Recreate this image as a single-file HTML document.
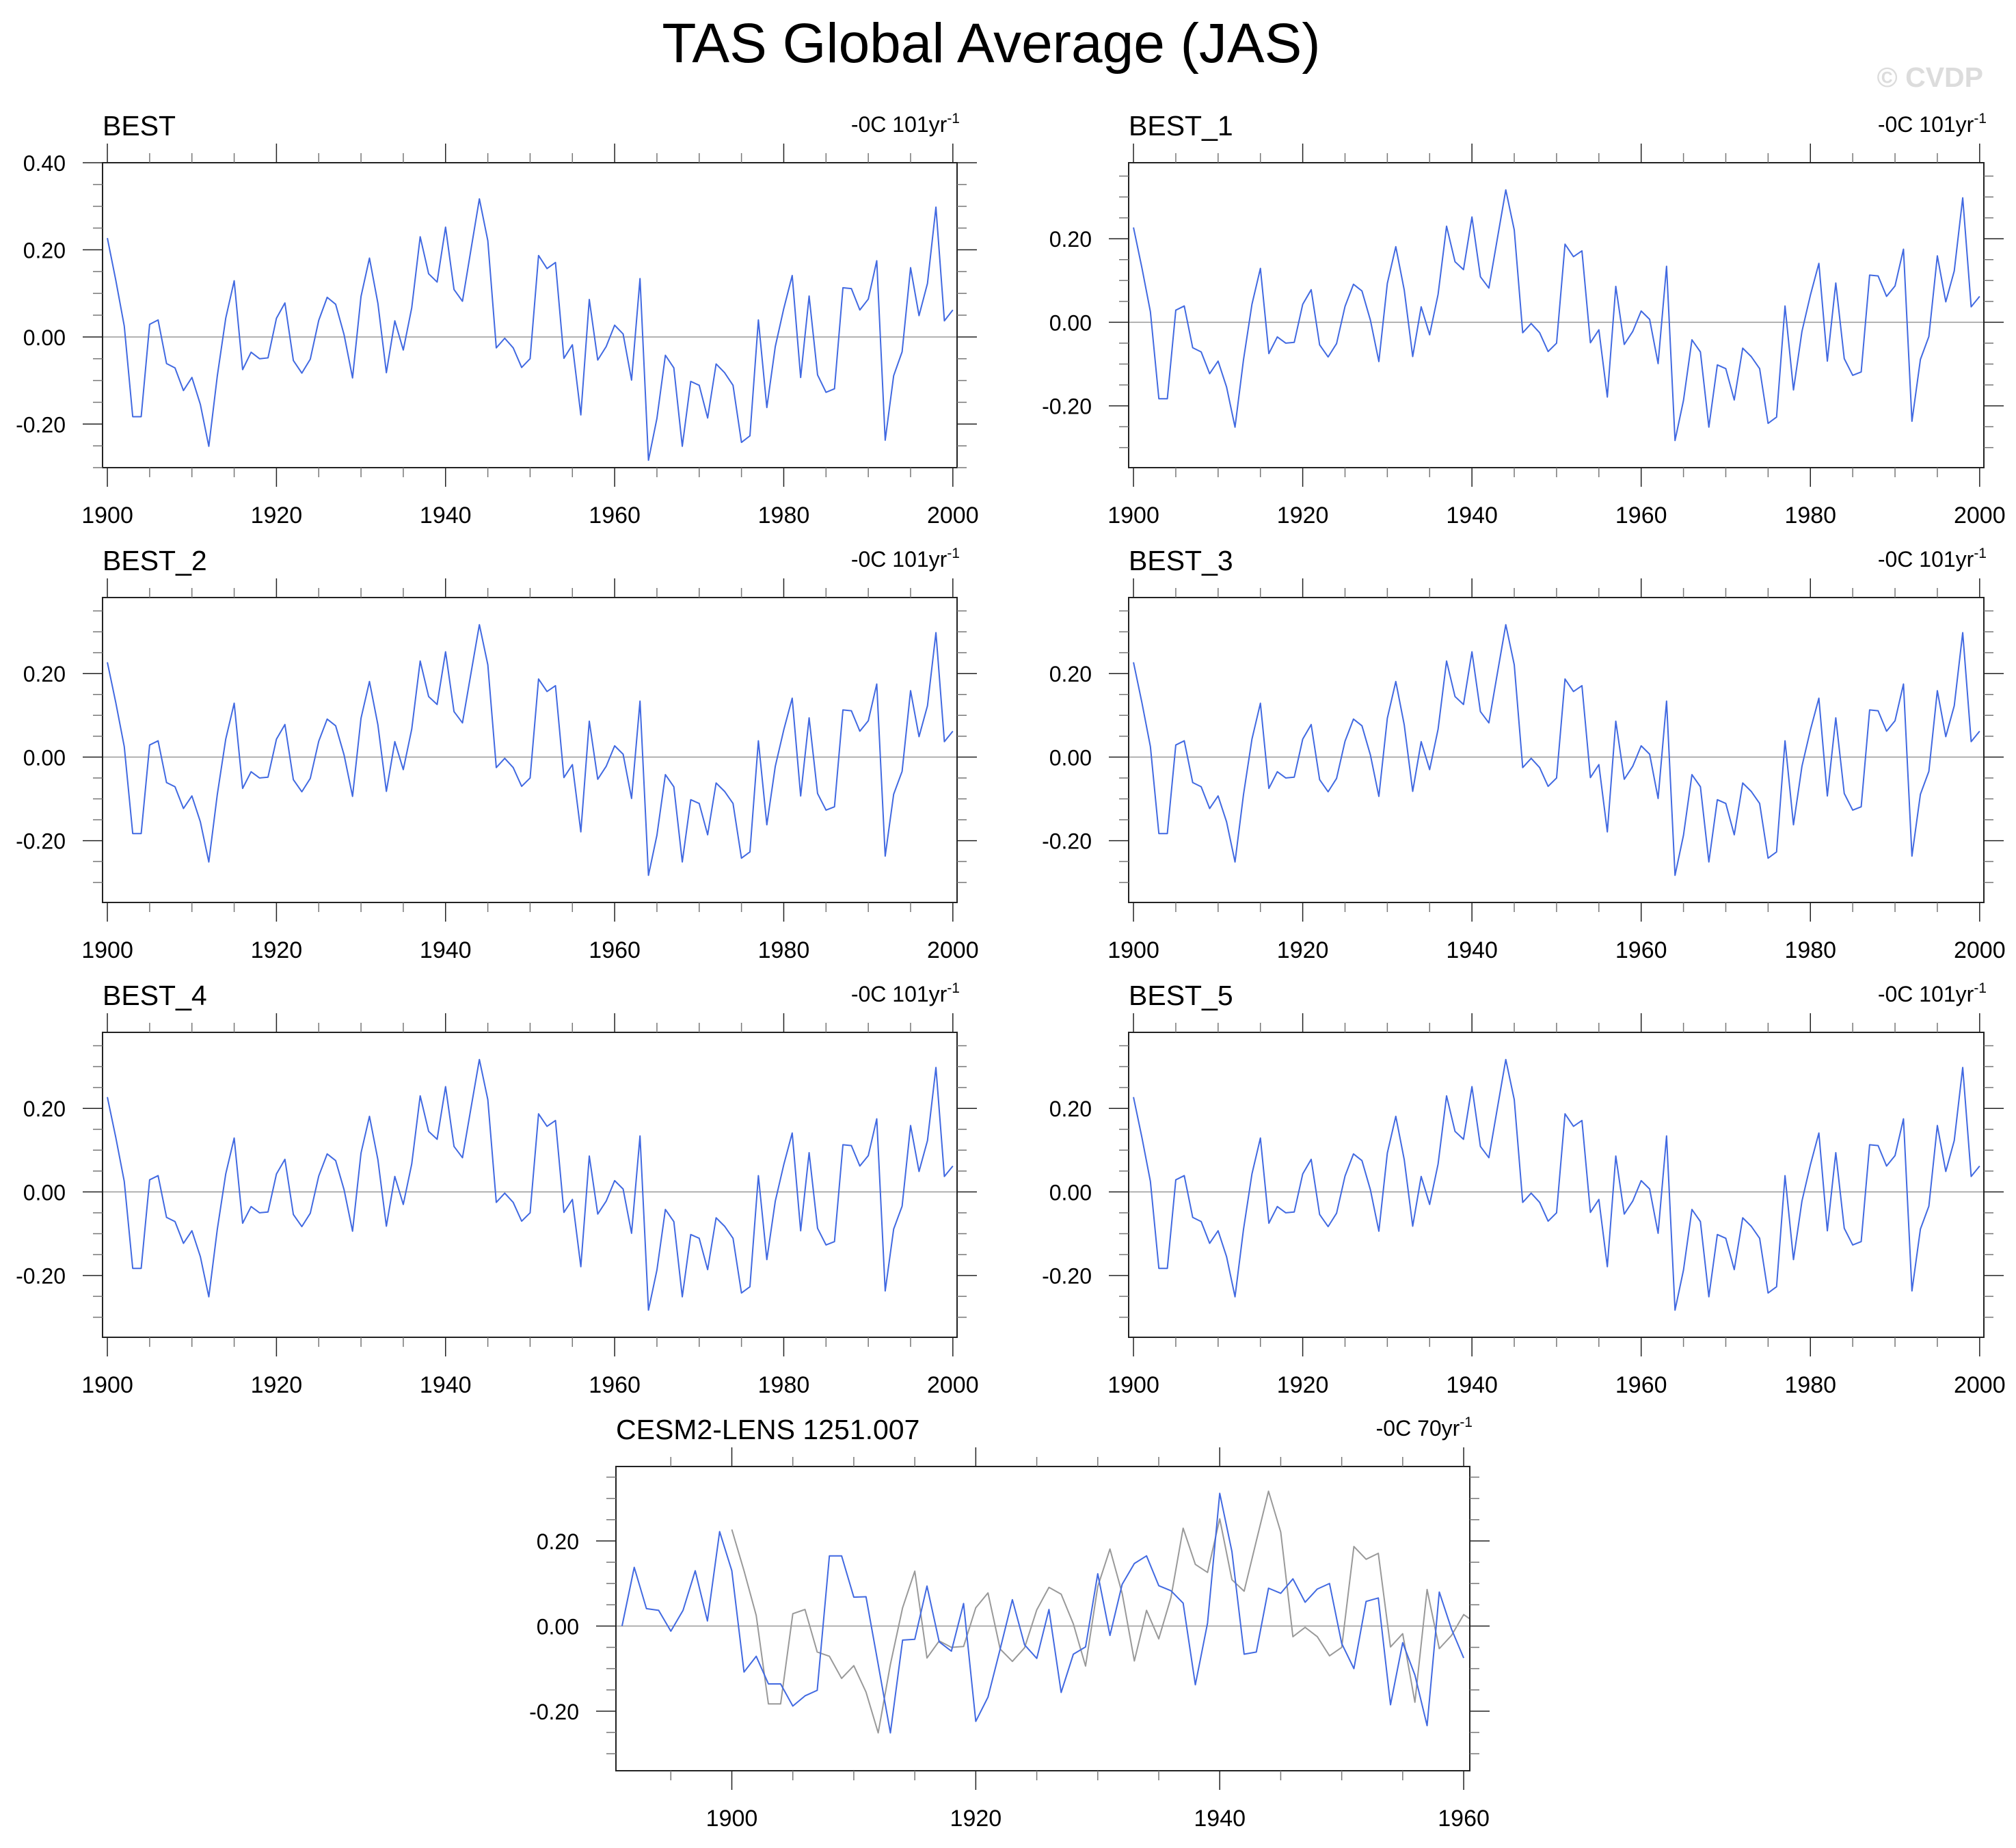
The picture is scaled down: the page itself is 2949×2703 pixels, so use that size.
<!DOCTYPE html>
<html><head><meta charset="utf-8">
<style>
html,body{margin:0;padding:0;background:#fff;}
svg{display:block;font-family:"Liberation Sans",Arial,sans-serif;}
</style></head>
<body>
<svg id="fig" width="2949" height="2703" viewBox="0 0 2949 2703" xmlns="http://www.w3.org/2000/svg">
<text x="1450" y="91" font-size="82" text-anchor="middle" fill="#000">TAS Global Average (JAS)</text>
<text x="2901" y="127" font-size="41" font-weight="bold" text-anchor="end" fill="#dcdcdc">© CVDP</text>
</svg>
<script>
// Observed BEST series, 1900-2000
const bestYears = [];
for (let y = 1900; y <= 2000; y++) bestYears.push(y);
const bestValues = [0.227,0.13,0.025,-0.183,-0.183,0.029,0.039,-0.061,-0.071,-0.123,
-0.093,-0.155,-0.251,-0.09,0.043,0.129,-0.075,-0.035,-0.05,-0.048,
0.043,0.078,-0.054,-0.083,-0.051,0.038,0.091,0.075,0.005,-0.094,
0.093,0.181,0.077,-0.082,0.037,-0.03,0.067,0.23,0.145,0.126,
0.252,0.109,0.082,0.2,0.317,0.221,-0.025,-0.003,-0.025,-0.07,
-0.05,0.187,0.157,0.171,-0.049,-0.018,-0.179,0.086,-0.053,-0.022,
0.027,0.007,-0.099,0.134,-0.283,-0.187,-0.042,-0.071,-0.251,-0.102,
-0.111,-0.186,-0.062,-0.082,-0.111,-0.242,-0.227,0.039,-0.162,-0.022,
0.065,0.141,-0.093,0.094,-0.087,-0.127,-0.119,0.113,0.111,0.062,
0.087,0.175,-0.237,-0.089,-0.034,0.159,0.049,0.123,0.298,0.037,0.062];
// CESM2-LENS member, 1891-1960
const cesmYears = [];
for (let y = 1891; y <= 1960; y++) cesmYears.push(y);
const cesmValues = [0.0,0.138,0.041,0.037,-0.012,0.037,0.13,0.012,0.222,0.13,
-0.108,-0.071,-0.136,-0.136,-0.188,-0.164,-0.151,0.165,0.165,0.068,
0.069,-0.09,-0.251,-0.033,-0.031,0.094,-0.037,-0.059,0.053,-0.224,
-0.167,-0.054,0.062,-0.044,-0.076,0.039,-0.156,-0.066,-0.049,0.123,
-0.022,0.098,0.147,0.165,0.095,0.083,0.054,-0.138,0.007,0.312,
0.175,-0.066,-0.061,0.089,0.077,0.111,0.056,0.087,0.1,-0.041,
-0.1,0.058,0.066,-0.185,-0.039,-0.115,-0.234,0.08,-0.007,-0.075];
const yTickLabels = ["-0.20","0.00","0.20","0.40"];
const yTickValues = [-0.2,0.0,0.2,0.4];

const NS = "http://www.w3.org/2000/svg";
const svg = document.getElementById('fig');
function mk(tag, attrs, parent){
  const e = document.createElementNS(NS, tag);
  for (const k in attrs) e.setAttribute(k, attrs[k]);
  (parent||svg).appendChild(e);
  return e;
}

const panels = [
 {name:'best', title:'BEST', L:150, R:1400, T:238, B:684, ymin:-0.30, ymax:0.40, xmin:1899.43, xmax:2000.5, xmaj:20, lines:[{x:bestYears,y:bestValues,c:'#4169e1'}], unit:'-0C 101yr'},
 {name:'best-1', title:'BEST_1', L:1651, R:2902, T:238, B:684, ymin:-0.348, ymax:0.382, xmin:1899.43, xmax:2000.5, xmaj:20, lines:[{x:bestYears,y:bestValues,c:'#4169e1'}], unit:'-0C 101yr'},
 {name:'best-2', title:'BEST_2', L:150, R:1400, T:874, B:1320, ymin:-0.348, ymax:0.382, xmin:1899.43, xmax:2000.5, xmaj:20, lines:[{x:bestYears,y:bestValues,c:'#4169e1'}], unit:'-0C 101yr'},
 {name:'best-3', title:'BEST_3', L:1651, R:2902, T:874, B:1320, ymin:-0.348, ymax:0.382, xmin:1899.43, xmax:2000.5, xmaj:20, lines:[{x:bestYears,y:bestValues,c:'#4169e1'}], unit:'-0C 101yr'},
 {name:'best-4', title:'BEST_4', L:150, R:1400, T:1510, B:1956, ymin:-0.348, ymax:0.382, xmin:1899.43, xmax:2000.5, xmaj:20, lines:[{x:bestYears,y:bestValues,c:'#4169e1'}], unit:'-0C 101yr'},
 {name:'best-5', title:'BEST_5', L:1651, R:2902, T:1510, B:1956, ymin:-0.348, ymax:0.382, xmin:1899.43, xmax:2000.5, xmaj:20, lines:[{x:bestYears,y:bestValues,c:'#4169e1'}], unit:'-0C 101yr'},
 {name:'cesm2-lens', title:'CESM2-LENS 1251.007', L:901, R:2150, T:2145, B:2590, ymin:-0.34, ymax:0.375, xmin:1890.5, xmax:1960.5, xmaj:20, lines:[{x:bestYears,y:bestValues,c:'#999999'},{x:cesmYears,y:cesmValues,c:'#4169e1'}], unit:'-0C 70yr', bottom:true}
];

panels.forEach((p, idx) => {
  const g = mk('g', {});
  
  
  const sx = v => p.L + (v - p.xmin) / (p.xmax - p.xmin) * (p.R - p.L);
  const sy = v => p.B - (v - p.ymin) / (p.ymax - p.ymin) * (p.B - p.T);
  const cid = 'clip' + idx;
  const defs = mk('defs', {}, g);
  const cp = mk('clipPath', {id: cid}, defs);
  mk('rect', {x:p.L, y:p.T, width:p.R-p.L, height:p.B-p.T}, cp);

  const z = mk('line', {x1:p.L, x2:p.R, y1:sy(0), y2:sy(0), stroke:'#999', 'stroke-width':1.5}, g);
  
  

  p.lines.forEach((s, si) => {
    let d = '';
    s.x.forEach((yr, i) => { d += (i ? 'L' : 'M') + sx(yr).toFixed(2) + ',' + sy(s.y[i]).toFixed(2); });
    const path = mk('path', {d:d, fill:'none', stroke:s.c, 'stroke-width':2, 'clip-path':'url(#'+cid+')', 'stroke-linejoin':'round'}, g);
    
    
  });

  const box = mk('rect', {x:p.L, y:p.T, width:p.R-p.L, height:p.B-p.T, fill:'none', stroke:'#222', 'stroke-width':2}, g);
  
  

  const y0 = Math.ceil(p.xmin / 5) * 5;
  for (let yr = y0; yr <= p.xmax; yr += 5) {
    const x = sx(yr);
    const major = yr % p.xmaj === 0;
    const len = major ? 28 : 14;
    mk('line', {x1:x, x2:x, y1:p.T, y2:p.T-len, stroke:major?'#222':'#777', 'stroke-width':1.5}, g);
    mk('line', {x1:x, x2:x, y1:p.B, y2:p.B+len, stroke:major?'#222':'#777', 'stroke-width':1.5}, g);
    if (major) {
      const t = mk('text', {x:x, y:p.B+81, 'font-size':34, 'text-anchor':'middle', fill:'#000'}, g);
      t.textContent = String(yr);
      
      
    }
  }
  for (let k = Math.ceil(p.ymin / 0.05 - 1e-6); k * 0.05 <= p.ymax + 1e-6; k++) {
    const v = k * 0.05;
    const y = sy(v);
    const major = k % 4 === 0;
    const len = major ? 29 : 14;
    mk('line', {x1:p.L, x2:p.L-len, y1:y, y2:y, stroke:major?'#222':'#777', 'stroke-width':1.5}, g);
    mk('line', {x1:p.R, x2:p.R+len, y1:y, y2:y, stroke:major?'#222':'#777', 'stroke-width':1.5}, g);
  }
  yTickValues.forEach((v, i) => {
    if (v < p.ymin - 1e-6 || v > p.ymax + 1e-6) return;
    const t = mk('text', {x:p.L-54, y:sy(v)+12, 'font-size':32, 'text-anchor':'end', fill:'#000'}, g);
    t.textContent = yTickLabels[i];
    
    
  });

  const tt = mk('text', {x:p.L, y:p.T-40, 'font-size':41, fill:'#000'}, g);
  tt.textContent = p.title;
  
  
  const ut = mk('text', {x:p.R+4, y:p.T-45, 'font-size':32, 'text-anchor':'end', fill:'#000'}, g);
  
  
  const t1 = mk('tspan', {}, ut); t1.textContent = p.unit;
  const t2 = mk('tspan', {dy:-13, 'font-size':21}, ut); t2.textContent = '-1';
});
</script>
</body></html>
